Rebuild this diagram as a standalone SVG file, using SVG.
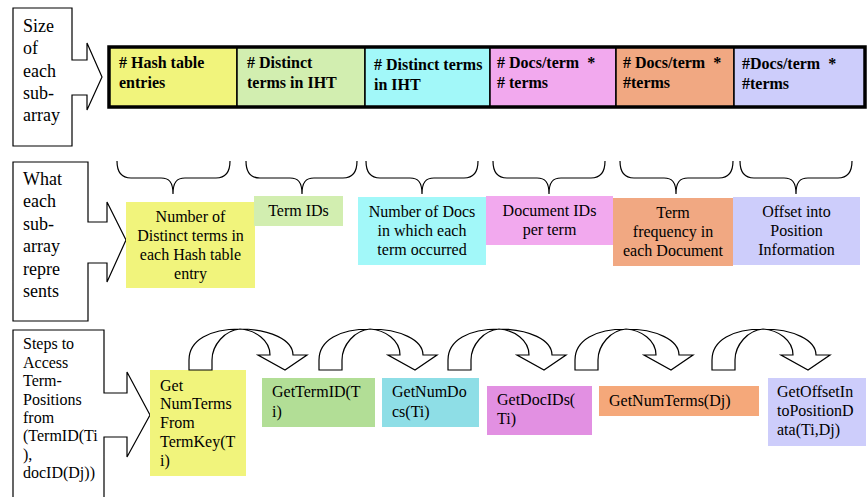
<svg xmlns="http://www.w3.org/2000/svg" width="867" height="497" viewBox="0 0 867 497">
<style>
  .bg { fill: #ffffff; }
  .callout { fill: #ffffff; stroke: #000000; stroke-width: 1.2; }
  .lbl { font-family: "Liberation Serif", "Times New Roman", serif; fill: #000000; }
  .side { font-size: 18px; }
  .side16 { font-size: 16px; }
  .head { font-size: 16px; font-weight: bold; white-space: pre; }
  .mid { font-size: 16px; text-anchor: middle; }
  .step { font-size: 16px; }
  .cell { stroke: #000000; stroke-width: 1.5; }
  .bar { fill: none; stroke: #000000; stroke-width: 3.5; }
  .brace { fill: none; stroke: #000000; stroke-width: 1.2; }
  .carrow { fill: #ffffff; stroke: #000000; stroke-width: 1.2; stroke-linejoin: miter; }
  .y { fill: #F1F47C; } .g { fill: #D2EEB0; } .c { fill: #A2F8F9; }
  .p { fill: #F2A9EE; } .o { fill: #F1A882; } .l { fill: #CDCDFB; }
  .g2 { fill: #B2DE96; } .c2 { fill: #8EDEE6; } .p2 { fill: #E290E2; } .o2 { fill: #F5A87A; }
</style>
<defs>
  <path id="curved" d="M0,0 L0,-10 C0,-30 21,-41 51,-41 C81,-41 104,-30 104,-15 L118,-15 L96,0 L69,-15 L81,-15 C81,-30 66,-40 51,-41 C36,-40 23,-25 23,-10 L23,0 Z"/>
</defs>
<rect class="bg" x="0" y="0" width="867" height="497"/>

<!-- Left callouts -->
<g id="callout-size">
  <path class="callout" d="M13,8 H72 V60 H87 V43 L102,77 L87,110 V95 H72 V146 H13 Z"/>
  <text class="lbl side" x="23" y="32">Size</text>
  <text class="lbl side" x="23" y="54">of</text>
  <text class="lbl side" x="23" y="77">each</text>
  <text class="lbl side" x="23" y="99">sub-</text>
  <text class="lbl side" x="23" y="121">array</text>
</g>
<g id="callout-what">
  <path class="callout" d="M13,162 H88 V222 H107 V202 L126,240 L107,282 V263 H88 V321 H13 Z"/>
  <text class="lbl side" x="23" y="185">What</text>
  <text class="lbl side" x="23" y="207">each</text>
  <text class="lbl side" x="23" y="230">sub-</text>
  <text class="lbl side" x="23" y="252">array</text>
  <text class="lbl side" x="23" y="275">repre</text>
  <text class="lbl side" x="23" y="297">sents</text>
</g>
<g id="callout-steps">
  <path class="callout" d="M13,499 V330 H104 V393 H127 V372 L150,415 L127,457 V437 H104 V499"/>
  <text class="lbl side16" x="23" y="349">Steps to</text>
  <text class="lbl side16" x="23" y="368">Access</text>
  <text class="lbl side16" x="23" y="386">Term-</text>
  <text class="lbl side16" x="23" y="405">Positions</text>
  <text class="lbl side16" x="23" y="423">from</text>
  <text class="lbl side16" x="23" y="441">(TermID(Ti</text>
  <text class="lbl side16" x="23" y="460">),</text>
  <text class="lbl side16" x="23" y="478">docID(Dj))</text>
</g>

<!-- Top array -->
<g id="array">
  <g id="cell-hash">
    <rect class="cell y" x="109" y="47" width="128" height="60"/>
    <text class="lbl head" x="119" y="68"># Hash table</text>
    <text class="lbl head" x="119" y="88">entries</text>
  </g>
  <g id="cell-distinct1">
    <rect class="cell g" x="237" y="47" width="128" height="60"/>
    <text class="lbl head" x="247" y="68"># Distinct</text>
    <text class="lbl head" x="247" y="88">terms in IHT</text>
  </g>
  <g id="cell-distinct2">
    <rect class="cell c" x="365" y="47" width="125" height="60"/>
    <text class="lbl head" x="374" y="70"># Distinct terms</text>
    <text class="lbl head" x="374" y="90">in IHT</text>
  </g>
  <g id="cell-docs1">
    <rect class="cell p" x="490" y="47" width="126" height="60"/>
    <text class="lbl head" x="497" y="68"># Docs/term  *</text>
    <text class="lbl head" x="497" y="88"># terms</text>
  </g>
  <g id="cell-docs2">
    <rect class="cell o" x="616" y="47" width="118" height="60"/>
    <text class="lbl head" x="623" y="68"># Docs/term  *</text>
    <text class="lbl head" x="623" y="88">#terms</text>
  </g>
  <g id="cell-docs3">
    <rect class="cell l" x="734" y="47" width="131" height="60"/>
    <text class="lbl head" x="742" y="69">#Docs/term  *</text>
    <text class="lbl head" x="742" y="89">#terms</text>
  </g>
  <rect class="bar" x="109" y="47" width="756" height="60"/>
</g>

<!-- Middle row boxes -->
<g id="desc-hash">
  <rect class="y" x="126" y="202" width="129" height="86"/>
  <text class="lbl mid" x="190.5" y="222">Number of</text>
  <text class="lbl mid" x="190.5" y="241">Distinct terms in</text>
  <text class="lbl mid" x="190.5" y="260">each Hash table</text>
  <text class="lbl mid" x="190.5" y="279">entry</text>
</g>
<g id="desc-termids">
  <rect class="g" x="254" y="196" width="89" height="30"/>
  <text class="lbl mid" x="298.5" y="216">Term IDs</text>
</g>
<g id="desc-numdocs">
  <rect class="c" x="358" y="197" width="128" height="68"/>
  <text class="lbl mid" x="422" y="217">Number of Docs</text>
  <text class="lbl mid" x="422" y="236">in which each</text>
  <text class="lbl mid" x="422" y="255">term occurred</text>
</g>
<g id="desc-docids">
  <rect class="p" x="486" y="196" width="127" height="49"/>
  <text class="lbl mid" x="549.5" y="216">Document IDs</text>
  <text class="lbl mid" x="549.5" y="235">per term</text>
</g>
<g id="desc-freq">
  <rect class="o" x="613" y="198" width="120" height="68"/>
  <text class="lbl mid" x="673" y="218">Term</text>
  <text class="lbl mid" x="673" y="237">frequency in</text>
  <text class="lbl mid" x="673" y="256">each Document</text>
</g>
<g id="desc-offset">
  <rect class="l" x="733" y="197" width="127" height="68"/>
  <text class="lbl mid" x="796.5" y="217">Offset into</text>
  <text class="lbl mid" x="796.5" y="236">Position</text>
  <text class="lbl mid" x="796.5" y="255">Information</text>
</g>

<!-- Bottom row steps -->
<g id="step-numterms">
  <rect class="y" x="150" y="370" width="96" height="106"/>
  <text class="lbl step" x="160" y="391">Get</text>
  <text class="lbl step" x="160" y="409">NumTerms</text>
  <text class="lbl step" x="160" y="428">From</text>
  <text class="lbl step" x="160" y="447">TermKey(T</text>
  <text class="lbl step" x="160" y="466">i)</text>
</g>
<g id="step-termid">
  <rect class="g2" x="262" y="378" width="113" height="49"/>
  <text class="lbl step" x="272" y="397">GetTermID(T</text>
  <text class="lbl step" x="272" y="417">i)</text>
</g>
<g id="step-numdocs">
  <rect class="c2" x="382" y="378" width="97" height="49"/>
  <text class="lbl step" x="392" y="397">GetNumDo</text>
  <text class="lbl step" x="392" y="417">cs(Ti)</text>
</g>
<g id="step-docids">
  <rect class="p2" x="487" y="386" width="105" height="49"/>
  <text class="lbl step" x="497" y="405">GetDocIDs(</text>
  <text class="lbl step" x="497" y="424">Ti)</text>
</g>
<g id="step-numterms-dj">
  <rect class="o2" x="599" y="386" width="160" height="30"/>
  <text class="lbl step" x="609" y="406">GetNumTerms(Dj)</text>
</g>
<g id="step-offset">
  <rect class="l" x="768" y="378" width="98" height="68"/>
  <text class="lbl step" x="777" y="397">GetOffsetIn</text>
  <text class="lbl step" x="777" y="416">toPositionD</text>
  <text class="lbl step" x="777" y="435">ata(Ti,Dj)</text>
</g>

<!-- Connectors: braces and curved arrows -->
<g id="connectors">
  <path class="brace" d="M117,161 C117,172 121,178 131,178 H161 C169,178 173,182 173,194 C173,182 177,178 185,178 H216 C226,178 230,172 230,161"/>
  <path class="brace" d="M246,161 C246,172 250,178 260,178 H290 C298,178 302,182 302,194 C302,182 306,178 314,178 H343 C353,178 357,172 357,161"/>
  <path class="brace" d="M366,161 C366,172 370,178 380,178 H410 C418,178 422,182 422,194 C422,182 426,178 434,178 H464 C474,178 478,172 478,161"/>
  <path class="brace" d="M493,161 C493,172 497,178 507,178 H537 C545,178 549,182 549,194 C549,182 553,178 561,178 H591 C601,178 605,172 605,161"/>
  <path class="brace" d="M620,161 C620,172 624,178 634,178 H664 C672,178 676,182 676,194 C676,182 680,178 688,178 H719 C729,178 733,172 733,161"/>
  <path class="brace" d="M740,161 C740,172 744,178 754,178 H784 C792,178 796,182 796,194 C796,182 800,178 808,178 H838 C848,178 852,172 852,161"/>
  <use href="#curved" class="carrow" transform="translate(189,370)"/>
  <use href="#curved" class="carrow" transform="translate(319,370)"/>
  <use href="#curved" class="carrow" transform="translate(448,370)"/>
  <use href="#curved" class="carrow" transform="translate(575,370)"/>
  <use href="#curved" class="carrow" transform="translate(712,370)"/>
</g>
</svg>
